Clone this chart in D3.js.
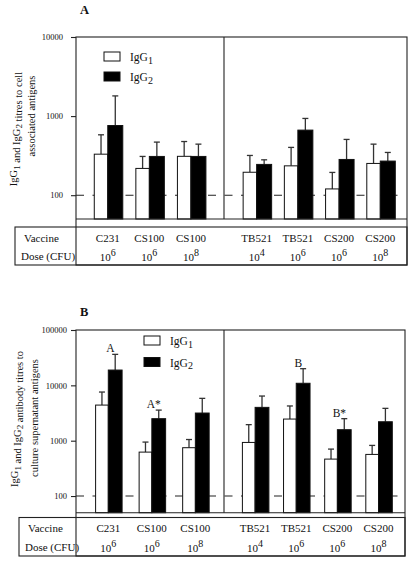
<!DOCTYPE html>
<html>
<head>
<meta charset="utf-8">
<script src="https://cdn.jsdelivr.net/npm/d3@7.9.0/dist/d3.min.js"></script>
<style>
  body { margin: 0; background: #fff; }
  svg text { font-family: "Liberation Serif", "Times New Roman", serif; fill: #111; }
</style>
</head>
<body>
<svg id="chart" width="413" height="562" font-family="Liberation Serif, serif"></svg>
<script>
// groups (same for both panels)
const vaccines = ["C231", "CS100", "CS100", "TB521", "TB521", "CS200", "CS200"];
const doseExponents = [6, 6, 8, 4, 6, 6, 8];
const leftCount = 3; // groups left of the divider

// panel A: titres to cell associated antigens
const cellIgG1 = [330, 218, 310, 195, 235, 120, 252];
const cellIgG1Err = [580, 309, 477, 318, 402, 194, 442];
const cellIgG2 = [760, 309, 309, 245, 665, 283, 270];
const cellIgG2Err = [1800, 469, 442, 280, 934, 507, 347];
const cellTicks = [100, 1000, 10000];

// panel B: titres to culture supernatant antigens
const supIgG1 = [4400, 622, 747, 930, 2460, 465, 565];
const supIgG1Err = [7570, 944, 1050, 1950, 4240, 705, 822];
const supIgG2 = [18900, 2500, 3160, 4000, 10900, 1580, 2200];
const supIgG2Err = [36300, 3570, 5820, 6410, 20000, 2500, 3840];
const supTicks = [100, 1000, 10000, 100000];
const supMarks = ["A", "A*", "", "", "B", "B*", ""];

const cutoff = 100;

const svg = d3.select("#chart");

// text with subscripted digits after "IgG"
function subText(sel, parts, subSize) {
  parts.forEach(p => {
    if (p.sub) {
      sel.append("tspan").attr("dy", 2.5).attr("font-size", subSize).text(p.sub);
      sel.append("tspan").attr("dy", -2.5).text("");
    } else {
      sel.append("tspan").text(p.t);
    }
  });
}

function drawPanel(p) {
  const g = svg.append("g");

  const y = d3.scaleLog().domain(p.domain).range([p.axisY, p.top]);
  const xL = d3.scalePoint().domain(d3.range(leftCount))
    .range([p.left, p.divX]).padding(p.padL).align(p.alignL);
  const xR = d3.scalePoint().domain(d3.range(leftCount, vaccines.length))
    .range([p.divX, p.right]).padding(p.padR).align(p.alignR);
  const cx = i => i < leftCount ? xL(i) : xR(i);

  // cutoff line
  g.append("line")
    .attr("x1", p.left).attr("x2", p.right - 4)
    .attr("y1", y(cutoff)).attr("y2", y(cutoff))
    .attr("stroke", "#222").attr("stroke-width", 1.1)
    .attr("stroke-dasharray", "8,8.5");

  // error bars (upper only)
  const errs = [];
  vaccines.forEach((v, i) => {
    errs.push({ x: cx(i) - p.w1 / 2, v: p.g1[i], e: p.e1[i] });
    errs.push({ x: cx(i) + p.w2 / 2, v: p.g2[i], e: p.e2[i] });
  });
  const eb = g.append("g").attr("stroke", "#333").attr("stroke-width", 1.3);
  errs.forEach(d => {
    eb.append("line").attr("x1", d.x).attr("x2", d.x).attr("y1", y(d.v)).attr("y2", y(d.e));
    eb.append("line").attr("x1", d.x - 3).attr("x2", d.x + 3).attr("y1", y(d.e)).attr("y2", y(d.e));
  });

  // bars
  g.append("g").selectAll("rect.g1").data(p.g1).join("rect")
    .attr("x", (d, i) => cx(i) - p.w1)
    .attr("y", d => y(d))
    .attr("width", p.w1)
    .attr("height", d => p.axisY - y(d))
    .attr("fill", "#fff").attr("stroke", "#111").attr("stroke-width", 1);
  g.append("g").selectAll("rect.g2").data(p.g2).join("rect")
    .attr("x", (d, i) => cx(i))
    .attr("y", d => y(d))
    .attr("width", p.w2)
    .attr("height", d => p.axisY - y(d))
    .attr("fill", "#000").attr("stroke", "#111").attr("stroke-width", 1);

  // significance marks
  if (p.marks) {
    p.marks.forEach((m, i) => {
      if (!m) return;
      g.append("text")
        .attr("x", cx(i) + 2).attr("y", y(p.e2[i]) - 2)
        .attr("text-anchor", "middle").attr("font-size", 11.5)
        .attr("fill", "#111").text(m);
    });
  }

  // frame, axis line, divider, table
  const fr = g.append("g").attr("stroke", "#222").attr("stroke-width", 1.1).attr("fill", "none");
  fr.append("rect").attr("x", p.left).attr("y", p.top)
    .attr("width", p.right - p.left).attr("height", p.tableBottom - p.top);
  fr.append("line").attr("x1", p.left).attr("x2", p.right).attr("y1", p.axisY).attr("y2", p.axisY);
  fr.append("line").attr("x1", p.divX).attr("x2", p.divX).attr("y1", p.top).attr("y2", p.axisY);
  fr.append("rect").attr("x", p.tableL).attr("y", p.tableTop)
    .attr("width", p.right - p.tableL).attr("height", p.tableBottom - p.tableTop);

  // y axis
  const ax = g.append("g").attr("transform", `translate(${p.left},0)`)
    .call(d3.axisLeft(y).tickValues(p.ticks).tickFormat(d => d).tickSize(5).tickPadding(p.tickPad));
  ax.attr("font-family", "Liberation Serif, serif");
  ax.select(".domain").remove();
  ax.selectAll(".tick line").attr("stroke", "#222").attr("stroke-width", 1.1);
  ax.selectAll(".tick text").attr("font-size", 8.5).attr("fill", "#111");

  // y label
  const lx = [p.labX1, p.labX2];
  p.yLabel.forEach((parts, k) => {
    const t = g.append("text")
      .attr("transform", `translate(${lx[k]},${p.labY[k]}) rotate(-90)`)
      .attr("text-anchor", "middle").attr("font-size", 10.5);
    subText(t, parts, 9);
  });

  // panel letter
  g.append("text").attr("x", 80).attr("y", p.letterY)
    .attr("font-size", 12.5).attr("font-weight", "bold").text(p.letter);

  // legend
  const lg = g.append("g");
  [["#fff", "1"], ["#000", "2"]].forEach(([fill, n], k) => {
    const yy = p.legY + k * p.legGap;
    lg.append("rect").attr("x", p.legX).attr("y", yy).attr("width", 16).attr("height", 9)
      .attr("fill", fill).attr("stroke", "#111").attr("stroke-width", 1);
    const t = lg.append("text").attr("x", p.legX + 26).attr("y", yy + 9).attr("font-size", 11.5);
    subText(t, [{ t: "IgG" }, { sub: n }], 10);
  });

  // table
  g.append("text").attr("x", p.tableL + 9).attr("y", p.rowY1).attr("font-size", 11).text("Vaccine");
  g.append("text").attr("x", p.tableL + 6).attr("y", p.rowY2).attr("font-size", 11).text("Dose (CFU)");
  vaccines.forEach((v, i) => {
    g.append("text").attr("x", cx(i)).attr("y", p.rowY1)
      .attr("text-anchor", "middle").attr("font-size", 11).text(v);
    const t = g.append("text").attr("x", cx(i)).attr("y", p.rowY2 + 1.5)
      .attr("text-anchor", "middle").attr("font-size", 11);
    t.append("tspan").text("10");
    t.append("tspan").attr("dy", -5).attr("font-size", 10).text(doseExponents[i]);
  });
}

drawPanel({
  letter: "A", letterY: 14,
  g1: cellIgG1, e1: cellIgG1Err, g2: cellIgG2, e2: cellIgG2Err,
  ticks: cellTicks, domain: [50, 10000],
  left: 76, right: 407, divX: 224, top: 37, axisY: 219,
  tableL: 15, tableTop: 227, tableBottom: 265,
  padL: 0.78, alignL: 0.49, padR: 0.72, alignR: 0.55,
  w1: 13.5, w2: 15, tickPad: 8,
  labX1: 17, labX2: 35, labY: [129, 116],
  yLabel: [
    [{ t: "IgG" }, { sub: "1" }, { t: " and IgG" }, { sub: "2" }, { t: " titres to cell" }],
    [{ t: "associated antigens" }]
  ],
  legX: 104, legY: 52, legGap: 20,
  rowY1: 241.5, rowY2: 259.5
});

drawPanel({
  letter: "B", letterY: 315.5,
  g1: supIgG1, e1: supIgG1Err, g2: supIgG2, e2: supIgG2Err, marks: supMarks,
  ticks: supTicks, domain: [50, 100000],
  left: 76, right: 405, divX: 224, top: 330, axisY: 512.7,
  tableL: 19, tableTop: 517.5, tableBottom: 556,
  padL: 0.7, alignL: 0.53, padR: 0.7, alignR: 0.54,
  w1: 12.7, w2: 13.8, tickPad: 4,
  labX1: 18, labX2: 38, labY: [419, 418],
  yLabel: [
    [{ t: "IgG" }, { sub: "1" }, { t: " and IgG" }, { sub: "2" }, { t: " antibody titres to" }],
    [{ t: "culture supernatant antigens" }]
  ],
  legX: 144, legY: 336, legGap: 21.5,
  rowY1: 532.3, rowY2: 550.5
});
</script>
</body>
</html>
